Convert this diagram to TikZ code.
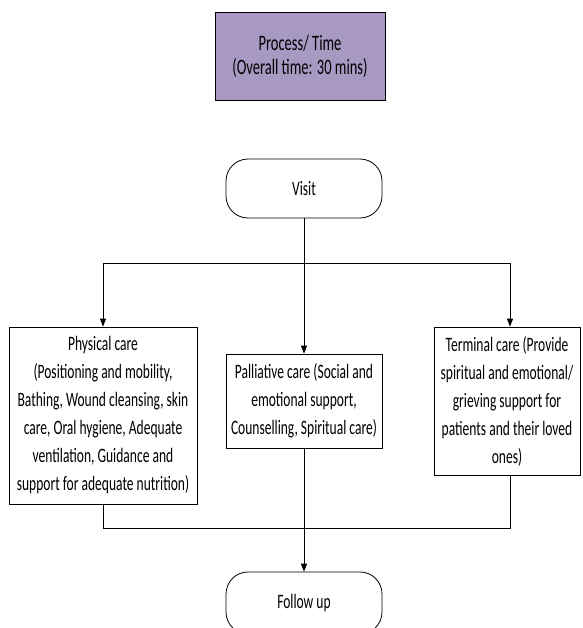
\documentclass[tikz,border=0pt]{standalone}
\usepackage{fontspec}
\setmainfont{Carlito}[FakeStretch=0.66]
\usetikzlibrary{arrows.meta}
\definecolor{procfill}{HTML}{A899C2}
\tikzset{
  box/.style={draw=black, line width=0.8pt, fill=white, align=center, inner sep=2pt,
    font=\fontsize{20.5pt}{28pt}\selectfont},
  term/.style={box, rounded corners=22pt},
  conn/.style={draw=black, line width=0.8pt},
  arr/.style={conn, -{Triangle[length=8pt,width=6pt]}},
}
\begin{document}
\begin{tikzpicture}[x=1pt,y=1pt]
\clip (0,0) rectangle (582,-628);
\fill[white] (0,0) rectangle (582,-628);
\node[box, fill=procfill, minimum width=170pt, minimum height=88pt,
  font=\fontsize{22pt}{24pt}\selectfont] (proc) at (300,-56)
  {Process/ Time\\(Overall time: 30 mins)};
\node[term, minimum width=156pt, minimum height=59pt] (visit) at (304,-188.5) {Visit};
\node[box, minimum width=188pt, minimum height=177pt] (phys) at (103,-415.5)
  {Physical care\\(Positioning and mobility,\\Bathing, Wound cleansing, skin\\care, Oral hygiene, Adequate\\ventilation, Guidance and\\support for adequate nutrition)};
\node[box, minimum width=156pt, minimum height=94pt] (pall) at (304,-401)
  {Palliative care (Social and\\emotional support,\\Counselling, Spiritual care)};
\node[box, minimum width=146pt, minimum height=148pt] (termc) at (507,-401)
  {Terminal care (Provide\\spiritual and emotional/\\grieving support for\\patients and their loved\\ones)};
\node[term, minimum width=156pt, minimum height=62pt] (follow) at (304,-603) {Follow up};
\coordinate (splitL) at (103,-263);
\coordinate (splitR) at (510,-263);
\coordinate (mergeL) at (103,-528);
\coordinate (mergeR) at (510,-528);
\draw[conn] (visit.south) -- (visit.south |- splitL);
\draw[conn] (splitL) -- (splitR);
\draw[arr] (splitL) -- (splitL |- phys.north);
\draw[arr] (visit.south |- splitL) -- (pall.north);
\draw[arr] (splitR) -- (splitR |- termc.north);
\draw[conn] (mergeL |- phys.south) -- (mergeL) -- (mergeR) -- (mergeR |- termc.south);
\draw[arr] (pall.south) -- (follow.north);
\end{tikzpicture}
\end{document}
